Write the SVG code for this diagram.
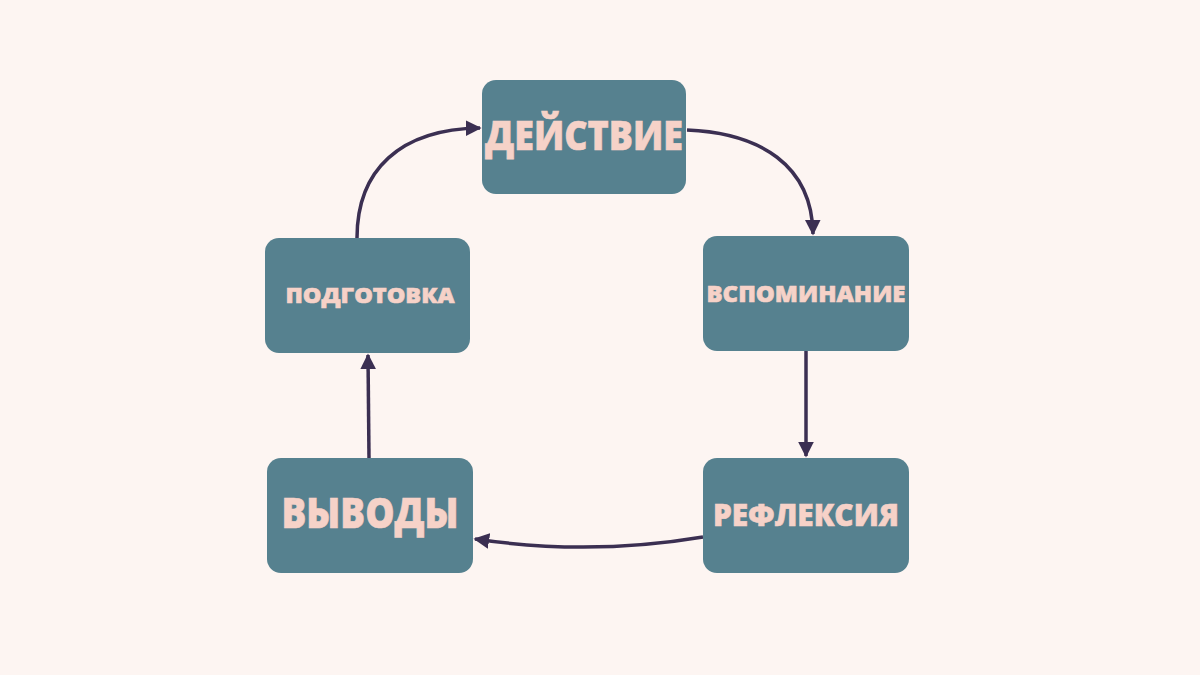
<svg xmlns="http://www.w3.org/2000/svg" width="1200" height="675" viewBox="0 0 1200 675">
<defs>
<style>
.node{fill:#56818f}
.lbl{fill:#f6d2c8;stroke:#f6d2c8;stroke-width:0.6;font-family:"Open Sans","DejaVu Sans",sans-serif;font-weight:800;text-anchor:middle}
.conn{fill:none;stroke:#3b2f52;stroke-width:3.5}
</style>
<marker id="arr" viewBox="0 0 10 10" refX="9" refY="5" markerWidth="4.5" markerHeight="4.5" markerUnits="strokeWidth" orient="auto">
<path d="M0,0 L10,5 L0,10 Z" fill="#3b2f52"/>
</marker>
</defs>
<rect width="1200" height="675" fill="#fdf5f2"/>
<g id="connectors">
<path class="conn" d="M357,238 C357,170 400,129 480,128" marker-end="url(#arr)"/>
<path class="conn" d="M687,130 C760,133 812,165 813,234" marker-end="url(#arr)"/>
<path class="conn" d="M806,351 L806,456" marker-end="url(#arr)"/>
<path class="conn" d="M703,537 Q590,556 475,539" marker-end="url(#arr)"/>
<path class="conn" d="M369,458 L368,355" marker-end="url(#arr)"/>
</g>
<g id="node-deystvie">
<rect class="node" x="482" y="80" width="204" height="114" rx="14"/>
<text class="lbl" x="584" y="150" font-size="40" textLength="198" lengthAdjust="spacingAndGlyphs">ДЕЙСТВИЕ</text>
</g>
<g id="node-vspominanie">
<rect class="node" x="703" y="236" width="206" height="115" rx="14"/>
<text class="lbl" x="806" y="302" font-size="22" textLength="199" lengthAdjust="spacingAndGlyphs">ВСПОМИНАНИЕ</text>
</g>
<g id="node-refleksiya">
<rect class="node" x="703" y="458" width="206" height="115" rx="14"/>
<text class="lbl" x="806" y="526" font-size="30" textLength="186" lengthAdjust="spacingAndGlyphs">РЕФЛЕКСИЯ</text>
</g>
<g id="node-vyvody">
<rect class="node" x="267" y="458" width="206" height="115" rx="14"/>
<text class="lbl" x="370" y="528" font-size="42" textLength="177" lengthAdjust="spacingAndGlyphs">ВЫВОДЫ</text>
</g>
<g id="node-podgotovka">
<rect class="node" x="265" y="238" width="205" height="115" rx="14"/>
<text class="lbl" x="370" y="303" font-size="21" textLength="169" lengthAdjust="spacingAndGlyphs">ПОДГОТОВКА</text>
</g>
</svg>
